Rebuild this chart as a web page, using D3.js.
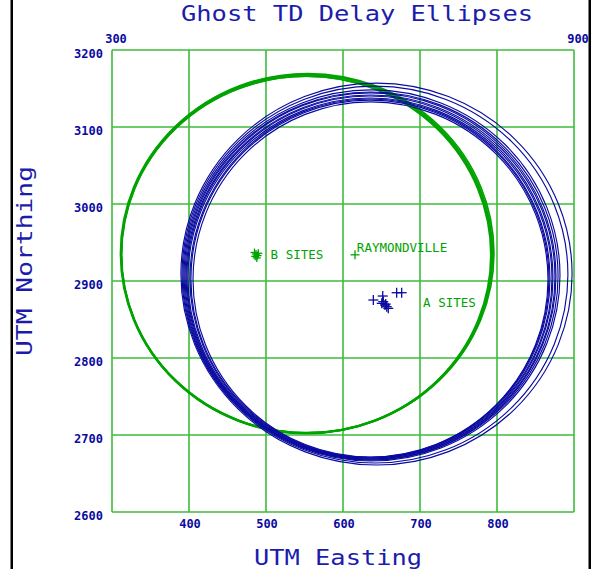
<!DOCTYPE html>
<html><head><meta charset="utf-8">
<script src="https://cdn.jsdelivr.net/npm/d3@7/dist/d3.min.js"></script>
<style>body{margin:0;background:#fff}svg{display:block}</style>
</head><body>
<script>
// ---- data ----
const xTicks = [300, 400, 500, 600, 700, 800, 900];
const yTicks = [2600, 2700, 2800, 2900, 3000, 3100, 3200];
const xBottomLabels = [400, 500, 600, 700, 800];
const xTopLabels = [300, 900];
// blue (A-site) ellipses: [centerE, centerN, semiE, semiN]
const blueEllipses = [
  [643.5, 2909.0, 254.0, 248.0],
  [641.5, 2908.3, 250.6, 244.7],
  [637.0, 2907.2, 244.8, 241.0],
  [636.4, 2906.5, 242.9, 239.0],
  [635.7, 2905.9, 240.9, 238.4],
  [635.7, 2905.2, 239.6, 236.4],
  [635.0, 2904.5, 237.7, 235.7],
  [635.0, 2903.9, 236.4, 233.8],
  [635.0, 2903.2, 233.8, 233.1],
  [635.0, 2903.0, 232.5, 231.9],
  [635.7, 2902.0, 230.5, 230.6]
];
// green (B-site) ellipses
const greenEllipses = [
  [553.0, 2935.0, 241.0, 233.0],
  [552.0, 2934.0, 240.0, 232.0],
  [554.0, 2936.0, 242.0, 233.5],
  [553.0, 2934.5, 240.5, 231.5],
  [552.5, 2935.5, 241.5, 232.8]
];
const aSitesE = [639.4, 651.6, 652.3, 654.5, 656.8, 658.8, 669.7, 676.2, 650.3, 655.5];
const aSitesN = [2875.3, 2880.5, 2873.1, 2868.8, 2866.6, 2864.5, 2884.8, 2884.8, 2871.0, 2870.0];
const bSitesE = [485, 487, 489, 486, 490, 488];
const bSitesN = [2937, 2935, 2933, 2932, 2936, 2930];
const townE = [615.6];
const townN = [2934];
const labels = [
  {text: "B SITES", e: 506, n: 2934},
  {text: "RAYMONDVILLE", e: 618, n: 2943},
  {text: "A SITES", e: 704, n: 2872}
];

// ---- chart ----
const W = 592, H = 569;
const svg = d3.select("body").append("svg").attr("width", W).attr("height", H);
const x = d3.scaleLinear().domain([300, 900]).range([112, 574]);
const y = d3.scaleLinear().domain([2600, 3200]).range([512, 50]);

const gridColor = "#3cbc3c", ellGreen = "#00a300", blue = "#0a0aa0", txtBlue = "#1c1cac";
const mono = "'DejaVu Sans Mono', 'Liberation Mono', monospace";

// black side borders
svg.append("rect").attr("x", 10.5).attr("y", 0).attr("width", 2.5).attr("height", H).attr("fill", "#000");
svg.append("rect").attr("x", 588.5).attr("y", 0).attr("width", 2.5).attr("height", H).attr("fill", "#000");

// grid
const g = svg.append("g");
g.selectAll("line.vx").data(xTicks).join("line")
  .attr("x1", d => x(d)).attr("x2", d => x(d)).attr("y1", y(3200)).attr("y2", y(2600))
  .attr("stroke", gridColor).attr("stroke-width", 1.6);
g.selectAll("line.hy").data(yTicks).join("line")
  .attr("y1", d => y(d)).attr("y2", d => y(d)).attr("x1", x(300)).attr("x2", x(900))
  .attr("stroke", gridColor).attr("stroke-width", 1.6);

// tick labels
svg.selectAll("text.yl").data(yTicks).join("text")
  .attr("x", 103).attr("y", d => y(d) + 8)
  .attr("text-anchor", "end").attr("font-family", mono).attr("font-weight", "bold")
  .attr("font-size", 12).attr("fill", blue).text(d => d);
svg.selectAll("text.xb").data(xBottomLabels).join("text")
  .attr("x", d => x(d) + 1).attr("y", 528)
  .attr("text-anchor", "middle").attr("font-family", mono).attr("font-weight", "bold")
  .attr("font-size", 12).attr("fill", blue).text(d => d);
svg.selectAll("text.xt").data(xTopLabels).join("text")
  .attr("x", d => x(d) + 4).attr("y", 43)
  .attr("text-anchor", "middle").attr("font-family", mono).attr("font-weight", "bold")
  .attr("font-size", 12).attr("fill", blue).text(d => d);

// ellipses
function drawEll(data, color, sw) {
  svg.append("g").selectAll("ellipse").data(data).join("ellipse")
    .attr("cx", d => x(d[0])).attr("cy", d => y(d[1]))
    .attr("rx", d => x(d[0] + d[2]) - x(d[0]))
    .attr("ry", d => y(d[1]) - y(d[1] + d[3]))
    .attr("fill", "none").attr("stroke", color).attr("stroke-width", sw);
}
drawEll(greenEllipses, ellGreen, 1.7);
drawEll(blueEllipses, blue, 1.15);

// crosses
function crosses(es, ns, color, half) {
  const pts = es.map((e, i) => [e, ns[i]]);
  const gg = svg.append("g").attr("stroke", color).attr("stroke-width", 1.3);
  pts.forEach(p => {
    const cx = x(p[0]), cy = y(p[1]);
    gg.append("line").attr("x1", cx - half).attr("x2", cx + half).attr("y1", cy).attr("y2", cy);
    gg.append("line").attr("x1", cx).attr("x2", cx).attr("y1", cy - half).attr("y2", cy + half);
  });
}
crosses(bSitesE, bSitesN, ellGreen, 4);
crosses(townE, townN, ellGreen, 4.5);
crosses(aSitesE, aSitesN, blue, 5);

// site labels
svg.selectAll("text.site").data(labels).join("text")
  .attr("x", d => x(d.e)).attr("y", d => y(d.n) + 4.5)
  .attr("font-family", mono).attr("font-size", 12.5).attr("fill", ellGreen)
  .text(d => d.text);

// titles
svg.append("text").attr("x", 357).attr("y", 21).attr("text-anchor", "middle")
  .attr("font-family", mono).attr("font-size", 22).attr("fill", txtBlue)
  .attr("textLength", 352).attr("lengthAdjust", "spacingAndGlyphs")
  .text("Ghost TD Delay Ellipses");
svg.append("text").attr("x", 338).attr("y", 565).attr("text-anchor", "middle")
  .attr("font-family", mono).attr("font-size", 22).attr("fill", txtBlue)
  .attr("textLength", 168).attr("lengthAdjust", "spacingAndGlyphs")
  .text("UTM Easting");
svg.append("text").attr("transform", "translate(32,261) rotate(-90)").attr("text-anchor", "middle")
  .attr("font-family", mono).attr("font-size", 22).attr("fill", txtBlue)
  .attr("textLength", 190).attr("lengthAdjust", "spacingAndGlyphs")
  .text("UTM Northing");
</script>
</body></html>
